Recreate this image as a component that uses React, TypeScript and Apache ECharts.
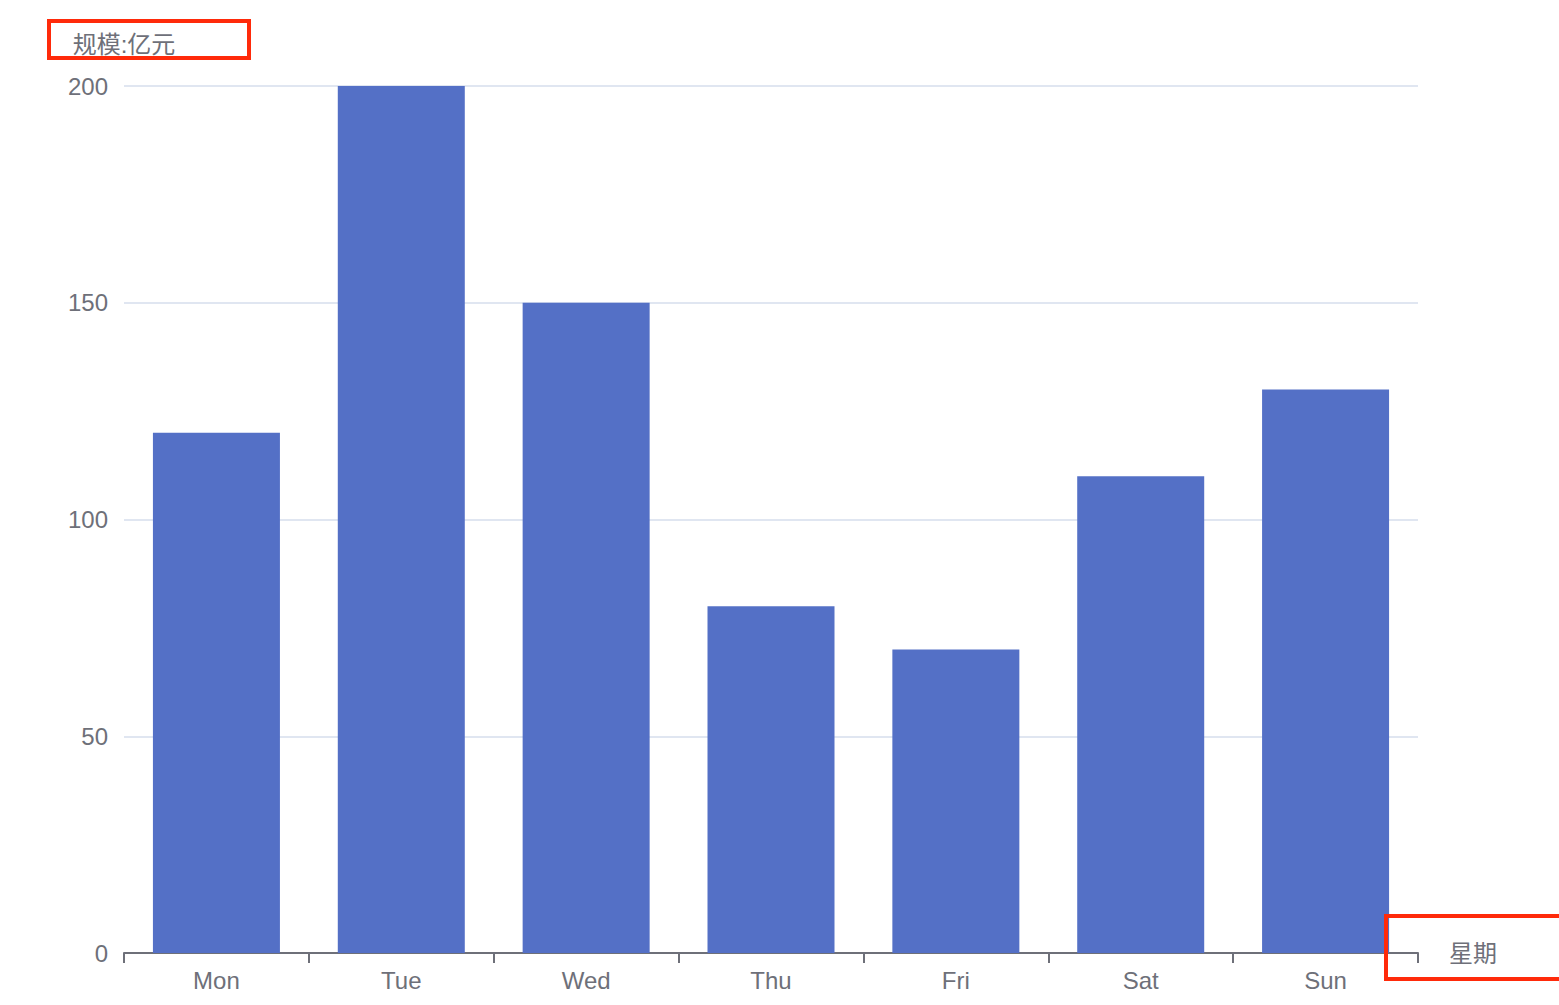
import React, { useEffect, useRef } from "react";
import * as echarts from "echarts";

const categories = ["Mon", "Tue", "Wed", "Thu", "Fri", "Sat", "Sun"];
const values = [120, 200, 150, 80, 70, 110, 130];
const yAxisName = "规模:亿元";
const xAxisName = "星期";

const FONT = "'Liberation Sans', 'Noto Sans CJK SC', sans-serif";
const TEXT = "#6E7079";
const FS = 24;

export default function App() {
  const ref = useRef<HTMLDivElement>(null);
  useEffect(() => {
    if (!ref.current) return;
    const chart = echarts.init(ref.current, undefined, { renderer: "svg" });
    chart.setOption({
      animation: false,
      textStyle: { fontFamily: FONT },
      grid: { left: 124, right: 141, top: 86, bottom: 52, containLabel: false },
      xAxis: {
        type: "category",
        data: categories,
        name: xAxisName,
        nameGap: 31,
        nameTextStyle: { fontSize: FS, color: TEXT, fontFamily: FONT },
        axisLine: { show: true, lineStyle: { color: TEXT, width: 2 } },
        axisTick: { show: true, length: 10, lineStyle: { color: TEXT, width: 2 } },
        axisLabel: { fontSize: FS, color: TEXT, margin: 15, fontFamily: FONT },
      },
      yAxis: {
        type: "value",
        min: 0,
        max: 200,
        interval: 50,
        name: yAxisName,
        nameGap: 30,
        nameTextStyle: { fontSize: FS, color: TEXT, fontFamily: FONT },
        axisLabel: { fontSize: FS, color: TEXT, margin: 16, fontFamily: FONT },
        splitLine: { lineStyle: { color: "#E0E6F1", width: 2 } },
      },
      series: [
        {
          type: "bar",
          data: values,
          barWidth: 127,
          itemStyle: { color: "#5470C6" },
        },
      ],
      graphic: [
        {
          type: "rect",
          shape: { x: 49, y: 21, width: 200, height: 37 },
          style: { fill: "none", stroke: "#FF2A0A", lineWidth: 4 },
          z: 100,
        },
        {
          type: "rect",
          shape: { x: 1386, y: 916, width: 190, height: 63 },
          style: { fill: "none", stroke: "#FF2A0A", lineWidth: 4 },
          z: 100,
        },
      ],
    });
    return () => chart.dispose();
  }, []);
  return (
    <div
      ref={ref}
      style={{ position: "fixed", left: 0, top: 0, width: 1559, height: 1005, background: "#fff" }}
    />
  );
}
